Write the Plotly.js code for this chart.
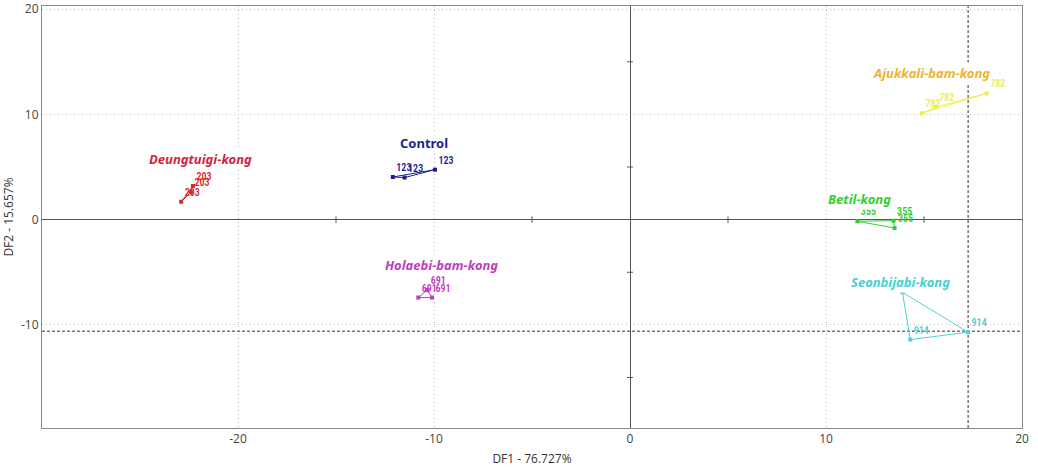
<!DOCTYPE html>
<html>
<head>
<meta charset="utf-8">
<script src="https://cdn.plot.ly/plotly-3.0.1.min.js"></script>
<style>html,body{margin:0;padding:0;background:#fff;}#chart{width:1038px;height:474px;}</style>
</head>
<body>
<div id="chart"></div>
<script>
// Group names and colours
const groups = ["Deungtuigi-kong", "Control", "Holaebi-bam-kong", "Ajukkali-bam-kong", "Betil-kong", "Seonbijabi-kong"];
const pointLabels = ["203", "123", "691", "782", "355", "914"];
// DF1 / DF2 scores per group (three replicates each)
const deungtuigiX = [-22.9, -22.4, -22.3];
const deungtuigiY = [1.7, 2.6, 3.2];
const controlX = [-12.1, -11.5, -9.95];
const controlY = [4.05, 4.0, 4.75];
const holaebiX = [-10.8, -10.1, -10.35];
const holaebiY = [-7.4, -7.4, -6.7];
const ajukkaliX = [14.9, 15.6, 18.2];
const ajukkaliY = [10.1, 10.7, 12.0];
const betilX = [11.6, 13.45, 13.5];
const betilY = [-0.15, -0.1, -0.8];
const seonbijabiX = [13.9, 14.3, 17.25];
const seonbijabiY = [-6.9, -11.4, -10.7];
// group label positions
const labelX = [-21.9, -10.5, -9.6, 15.4, 11.7, 13.8];
const labelY = [5.75, 7.3, -4.35, 13.9, 2.0, -5.95];

const xTicks = [-20, -10, 0, 10, 20];
const yTicks = [-10, 0, 10, 20];
const minorTicks = [-15, -5, 5, 15];

const xs = [deungtuigiX, controlX, holaebiX, ajukkaliX, betilX, seonbijabiX];
const ys = [deungtuigiY, controlY, holaebiY, ajukkaliY, betilY, seonbijabiY];
const pointColors = ["#d42a2a", "#1e1e96", "#c03cc0", "#eeee55", "#33cc33", "#4fd2d8"];
const textColors = ["#d4233f", "#1e1e96", "#c03cc0", "#f0b42c", "#2ed02e", "#48cfd6"];

const traces = [];
groups.forEach((g, i) => {
  traces.push({
    x: xs[i].concat([xs[i][0]]), y: ys[i].concat([ys[i][0]]),
    mode: "lines", type: "scatter", hoverinfo: "skip",
    line: {color: pointColors[i], width: 1}, showlegend: false
  });
  traces.push({
    x: xs[i], y: ys[i], mode: "markers+text", type: "scatter",
    text: xs[i].map(() => pointLabels[i]), textposition: "top right",
    textfont: {family: "Roboto Condensed, Liberation Sans Narrow, Roboto, sans-serif", size: 10, color: pointColors[i], weight: 600},
    marker: {symbol: "square", size: 4, color: pointColors[i]},
    name: g, showlegend: false, cliponaxis: false
  });
});

const annotations = groups.map((g, i) => ({
  x: labelX[i], y: labelY[i], xref: "x", yref: "y",
  text: i === 1 ? "<b>" + g + "</b>" : "<b><i>" + g + "</i></b>",
  showarrow: false, bgcolor: "#ffffff", borderpad: 1,
  font: {family: "Noto Sans, sans-serif", size: 13, color: textColors[i]}
}));

const shapes = [];
// crosshair on the selected Seonbijabi-kong point
shapes.push({type: "line", xref: "x", yref: "paper", x0: seonbijabiX[2], x1: seonbijabiX[2], y0: 0, y1: 1,
  line: {color: "#333", width: 1, dash: "3px,2px"}, layer: "below"});
shapes.push({type: "line", xref: "paper", yref: "y", x0: 0, x1: 1, y0: seonbijabiY[2] + 0.1, y1: seonbijabiY[2] + 0.1,
  line: {color: "#333", width: 1, dash: "3px,2px"}, layer: "below"});
// minor ticks on the zero lines
minorTicks.forEach(v => {
  shapes.push({type: "line", xref: "x", yref: "y", x0: v, x1: v, y0: -0.3, y1: 0.3, line: {color: "#555", width: 1}});
  shapes.push({type: "line", xref: "x", yref: "y", x0: -0.15, x1: 0.15, y0: v, y1: v, line: {color: "#555", width: 1}});
});

const layout = {
  width: 1038, height: 474,
  margin: {l: 42, r: 16, t: 6, b: 46},
  paper_bgcolor: "#fff", plot_bgcolor: "#fff",
  font: {family: "Open Sans, sans-serif", color: "#444"},
  xaxis: {
    range: [-30, 20], tickvals: xTicks, ticktext: xTicks.map(String),
    showgrid: true, gridcolor: "#bbbbbb", griddash: "1px,3px", gridwidth: 1,
    zeroline: true, zerolinecolor: "#555", zerolinewidth: 1,
    showline: true, mirror: true, linecolor: "#888", linewidth: 1,
    ticks: "", tickfont: {size: 12, color: "#444"},
    title: {text: "DF1 - 76.727%", font: {size: 12, color: "#333"}, standoff: 8}
  },
  yaxis: {
    range: [-19.8, 20.3], tickvals: yTicks, ticktext: yTicks.map(String),
    showgrid: true, gridcolor: "#bbbbbb", griddash: "1px,3px", gridwidth: 1,
    zeroline: true, zerolinecolor: "#555", zerolinewidth: 1,
    showline: true, mirror: true, linecolor: "#888", linewidth: 1,
    ticks: "", tickfont: {size: 12, color: "#444"},
    title: {text: "DF2 - 15.657%", font: {size: 12, color: "#333"}, standoff: 6}
  },
  annotations: annotations,
  shapes: shapes,
  showlegend: false
};

Plotly.newPlot("chart", traces, layout, {displayModeBar: false, staticPlot: true});
</script>
</body>
</html>
